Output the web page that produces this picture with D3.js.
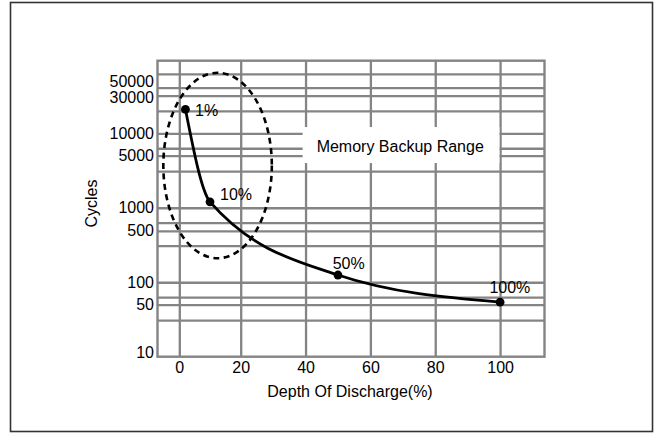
<!DOCTYPE html>
<html>
<head>
<meta charset="utf-8">
<script src="https://cdn.jsdelivr.net/npm/d3@7"></script>
<style>
  body { margin: 0; background: #fff; }
  text { font-family: "Liberation Sans", Arial, Helvetica, sans-serif; fill: #000; }
</style>
</head>
<body>
<svg id="viz" width="660" height="434"></svg>
<script>
  // values
  const depth = [2, 10, 50, 100];           // depth of discharge (%)
  const cycles = [21000, 1200, 125, 54];    // cycle life
  const pointLabels = ["1%", "10%", "50%", "100%"];

  const xTicks = [0, 20, 40, 60, 80, 100];
  const yTicks = [10, 50, 100, 500, 1000, 5000, 10000, 30000, 50000];
  const yGrid = [31, 50, 63, 100, 310, 490, 630, 1000, 3100, 5000, 6300, 10000, 20000, 32000, 41000, 63000];

  // backup range annotation (data units)
  const rangeDepth = [-5.2, 29.6];
  const rangeCycles = [210, 65000];
  const rangeText = "Memory Backup Range";

  // label nudges in px: [dx, dy]
  const labelNudge = [[9.6, 1], [10, -7.7], [-5.3, -11.4], [-10.7, -15]];

  const margin = { left: 157.5, top: 60.7 };
  const width = 387;
  const height = 296;
  const gridColor = "#848484";

  const svg = d3.select("#viz");

  // outer frame
  svg.append("rect")
    .attr("x", 10.5).attr("y", 2.5)
    .attr("width", 642).attr("height", 429)
    .attr("fill", "none").attr("stroke", "#333").attr("stroke-width", 1.6);

  const g = svg.append("g").attr("transform", `translate(${margin.left},${margin.top})`);

  // the drawing's x spacing is a bit tighter between 0 and 20
  const x = d3.scaleLinear().domain([-7.1, 20, 113.7]).range([0, 83.2, width]);
  const y = d3.scaleLog().domain([10, 94400]).range([height, 0]);

  // grid
  g.append("g")
    .call(d3.axisLeft(y).tickValues(yGrid).tickSize(-width).tickFormat(""))
    .call(a => a.select(".domain").remove())
    .selectAll("line").attr("stroke", gridColor).attr("stroke-width", 2.3);

  g.append("g")
    .attr("transform", `translate(0,${height})`)
    .call(d3.axisBottom(x).tickValues(xTicks).tickSize(-height).tickFormat(""))
    .call(a => a.select(".domain").remove())
    .selectAll("line").attr("stroke", gridColor).attr("stroke-width", 2.3);

  g.append("rect")
    .attr("width", width).attr("height", height)
    .attr("fill", "none").attr("stroke", gridColor).attr("stroke-width", 2.4);

  // tick labels
  const yAxis = g.append("g")
    .call(d3.axisLeft(y).tickValues(yTicks).tickSize(0).tickPadding(3.5).tickFormat(d3.format("d")));
  yAxis.select(".domain").remove();
  yAxis.selectAll("text")
    .attr("font-size", 16).style("fill", "#000")
    .attr("y", d => Math.min(0, height - 4 - y(d)));

  const xAxis = g.append("g")
    .attr("transform", `translate(0,${height})`)
    .call(d3.axisBottom(x).tickValues(xTicks).tickSize(0).tickPadding(5.2));
  xAxis.select(".domain").remove();
  xAxis.selectAll("text").attr("font-size", 16).style("fill", "#000");

  // axis titles
  svg.append("text")
    .attr("transform", "translate(91,203.5) rotate(-90)")
    .attr("text-anchor", "middle").attr("dy", "0.35em")
    .attr("font-size", 16)
    .text("Cycles");

  svg.append("text")
    .attr("x", 350).attr("y", 396.5)
    .attr("text-anchor", "middle")
    .attr("font-size", 16)
    .text("Depth Of Discharge(%)");

  // range label with white box over the grid
  const boxX = 69.2, boxY = 6600;
  const box = g.append("rect").attr("fill", "#fff");
  const rt = g.append("text")
    .attr("x", x(boxX)).attr("y", y(boxY))
    .attr("text-anchor", "middle").attr("dy", "0.35em")
    .attr("font-size", 16)
    .text(rangeText);
  const bb = rt.node().getBBox();
  box.attr("x", bb.x - 14).attr("width", bb.width + 29.5)
    .attr("y", y(boxY) - 19.7).attr("height", 36);

  // dashed ellipse for the backup range
  const ex0 = x(rangeDepth[0]), ex1 = x(rangeDepth[1]);
  const ey0 = y(rangeCycles[1]), ey1 = y(rangeCycles[0]);
  g.append("ellipse")
    .attr("cx", (ex0 + ex1) / 2).attr("cy", (ey0 + ey1) / 2)
    .attr("rx", (ex1 - ex0) / 2).attr("ry", (ey1 - ey0) / 2)
    .attr("fill", "none").attr("stroke", "#000")
    .attr("stroke-width", 2.6).attr("stroke-dasharray", "6,4.5");

  // curve
  const pts = depth.map((d, i) => [d, cycles[i]]);
  const line = d3.line()
    .x(d => x(d[0])).y(d => y(d[1]))
    .curve(d3.curveMonotoneX);

  g.append("path")
    .datum(pts)
    .attr("d", line)
    .attr("fill", "none").attr("stroke", "#000").attr("stroke-width", 2.8);

  g.selectAll(".dot")
    .data(pts)
    .enter()
    .append("circle")
    .attr("class", "dot")
    .attr("cx", d => x(d[0])).attr("cy", d => y(d[1]))
    .attr("r", 4.4).attr("fill", "#000");

  g.selectAll(".plabel")
    .data(pts)
    .enter()
    .append("text")
    .attr("class", "plabel")
    .attr("x", (d, i) => x(d[0]) + labelNudge[i][0])
    .attr("y", (d, i) => y(d[1]) + labelNudge[i][1])
    .attr("dy", "0.35em")
    .attr("font-size", 16)
    .text((d, i) => pointLabels[i]);
</script>
</body>
</html>
